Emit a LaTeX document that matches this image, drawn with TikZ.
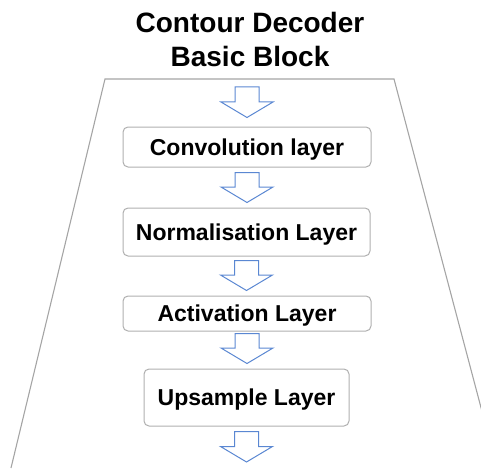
\documentclass[tikz,border=0pt]{standalone}
\usepackage{fontspec}
\setmainfont{Liberation Sans}
\usepackage{xcolor}
\usepackage{tikz}
\usetikzlibrary{positioning, calc}

\definecolor{flowblue}{RGB}{90,135,210}
\definecolor{framegray}{RGB}{165,165,165}
\definecolor{boxgray}{RGB}{175,175,175}

\begin{document}
\begin{tikzpicture}[x=1pt, y=-1pt,
  layer/.style={draw=boxgray, line width=1pt, rounded corners=5pt, inner sep=0pt,
    font=\fontsize{23}{28}\selectfont\bfseries, text depth=0pt},
  flow/.style={draw=flowblue, line width=1pt, line join=miter,
    to path={let \p1=(\tikztostart), \p2=(\tikztotarget) in
      (\x1-12pt,\y1) -- (\x1+12pt,\y1) -- (\x1+12pt,\y2+15.5pt) -- (\x1+26pt,\y2+15.5pt)
      -- (\x1,\y2) -- (\x1-26pt,\y2+15.5pt) -- (\x1-12pt,\y2+15.5pt) -- cycle}}]
\useasboundingbox (0,0) rectangle (481,468);

% frame of the block
\begin{scope}
\clip (0,0) rectangle (481,468);
\draw[framegray, line width=1.1pt] (11,468) -- (105,79) -- (394,79) -- (497,468);
\end{scope}

\node[font=\fontsize{28}{34}\selectfont\bfseries, align=center] (title) at (250,39)
   {Contour Decoder\\Basic Block};

\node[layer, minimum width=248pt, minimum height=40pt] (conv) at (247,147) {Convolution layer};
\node[layer, minimum width=247pt, minimum height=48pt] (norm) at (246.5,232) {Normalisation Layer};
\node[layer, minimum width=248pt, minimum height=35pt] (act) at (247,313.5) {Activation Layer};
\node[layer, minimum width=205pt, minimum height=57pt] (upsample) at (246.5,397.5) {Upsample Layer};

\coordinate (feed) at (247,87);
\coordinate (exit) at (247,462);

\draw[flow] (feed) to ($(conv.north)+(0,-9)$);
\draw[flow] ($(conv.south)+(0,5)$) to ($(norm.north)+(0,-5)$);
\draw[flow] ($(norm.south)+(0,4)$) to ($(act.north)+(0,-5)$);
\draw[flow] ($(act.south)+(0,2)$) to ($(upsample.north)+(0,-5)$);
\draw[flow] ($(upsample.south)+(0,5)$) to (exit);
\end{tikzpicture}
\end{document}
